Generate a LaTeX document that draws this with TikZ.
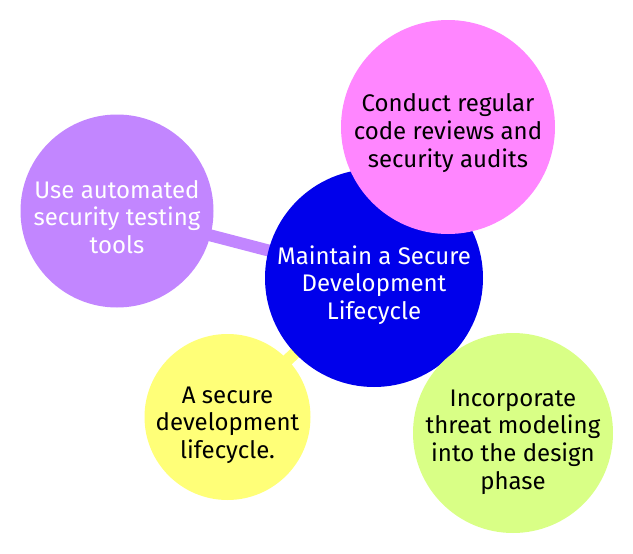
\documentclass[tikz,border=0pt]{standalone}
\usepackage{fontspec}
\setmainfont{Fira Sans}
\usepackage{tikz}
\usetikzlibrary{backgrounds, positioning}
\definecolor{rootblue}{HTML}{0000EB}
\definecolor{lilac}{HTML}{C286FF}
\definecolor{pinky}{HTML}{FF86FF}
\definecolor{lemon}{HTML}{FFFF78}
\definecolor{lime}{HTML}{D9FF86}

\begin{document}
\begin{tikzpicture}[x=1pt, y=-1pt,
		bubble/.style={circle, inner sep=0pt},
		words/.style={inner sep=0pt, align=center, font=\fontsize{24}{27.7}\selectfont},
		twig/.style={line width=12pt}]
		\useasboundingbox (0,0) rectangle (633,554);
		\node [bubble, fill=rootblue, minimum size=218pt] (root) at (374,278) {};
		\node [bubble, fill=pinky, minimum size=214pt] (audits) at (448,127) {};
		\node [bubble, fill=lime, minimum size=200pt] (threat) at (513,433) {};
		\node [bubble, fill=lilac, minimum size=193pt] (tools) at (117,211) {};
		\node [bubble, fill=lemon, minimum size=166pt] (cycle) at (227.5,417) {};
		\node [words, text=white, yshift=-7pt] (rootText) at (root) {Maintain a Secure\\Development\\Lifecycle};
		\node [words, yshift=-6pt] (auditsText) at (audits) {Conduct regular\\code reviews and\\security audits};
		\node [words, yshift=-9pt] (threatText) at (threat) {Incorporate\\threat modeling\\into the design\\phase};
		\node [words, text=white, yshift=-6pt] (toolsText) at (tools) {Use automated\\security testing\\tools};
		\node [words, yshift=-8pt] (cycleText) at (cycle) {A secure\\development\\lifecycle.};
		\begin{scope}[on background layer]
			\draw [twig, lilac] (tools.center)--(root.center);
			\draw [twig, lemon] (cycle.center)--(root.center);
		\end{scope}
	\end{tikzpicture}
\end{document}
